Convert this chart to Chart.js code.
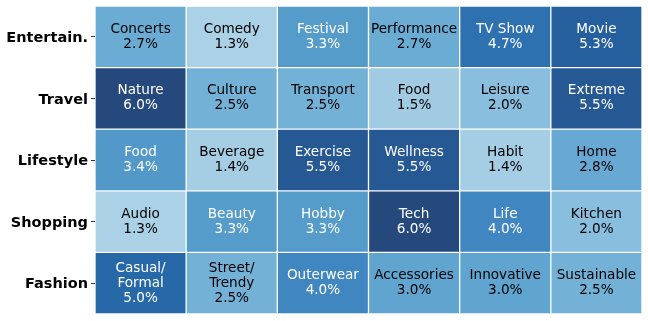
<!DOCTYPE html>
<html>
<head>
<meta charset="utf-8">
<script src="https://cdn.jsdelivr.net/npm/chart.js@4.4.1/dist/chart.umd.min.js"></script>
<style>
html,body{margin:0;padding:0;background:#fff;}
#wrap{width:648px;height:321px;}
</style>
</head>
<body>
<div id="wrap"><canvas id="c" width="648" height="321"></canvas></div>
<script>
const rowLabels = ['Entertain.', 'Travel', 'Lifestyle', 'Shopping', 'Fashion'];
const columnKeys = ['c1', 'c2', 'c3', 'c4', 'c5', 'c6'];

const entertainLabels = ['Concerts', 'Comedy', 'Festival', 'Performance', 'TV Show', 'Movie'];
const entertainValues = [2.7, 1.3, 3.3, 2.7, 4.7, 5.3];
const travelLabels = ['Nature', 'Culture', 'Transport', 'Food', 'Leisure', 'Extreme'];
const travelValues = [6.0, 2.5, 2.5, 1.5, 2.0, 5.5];
const lifestyleLabels = ['Food', 'Beverage', 'Exercise', 'Wellness', 'Habit', 'Home'];
const lifestyleValues = [3.4, 1.4, 5.5, 5.5, 1.4, 2.8];
const shoppingLabels = ['Audio', 'Beauty', 'Hobby', 'Tech', 'Life', 'Kitchen'];
const shoppingValues = [1.3, 3.3, 3.3, 6.0, 4.0, 2.0];
const fashionLabels = ['Casual/\nFormal', 'Street/\nTrendy', 'Outerwear', 'Accessories', 'Innovative', 'Sustainable'];
const fashionValues = [5.0, 2.5, 4.0, 3.0, 3.0, 2.5];

const cellLabels = [entertainLabels, travelLabels, lifestyleLabels, shoppingLabels, fashionLabels];
const cellValues = [entertainValues, travelValues, lifestyleValues, shoppingValues, fashionValues];

// matplotlib "Blues" approximation
const bluesStops = [
  [0.0, [247,251,255]], [0.125, [222,235,247]], [0.25, [198,219,239]],
  [0.375, [158,202,225]], [0.5, [107,174,214]], [0.625, [66,146,198]],
  [0.75, [33,113,181]], [0.875, [8,81,156]], [1.0, [8,48,107]]
];
function blues(t) {
  t = Math.max(0, Math.min(1, t));
  for (let i = 1; i < bluesStops.length; i++) {
    if (t <= bluesStops[i][0]) {
      const [t0, c0] = bluesStops[i-1], [t1, c1] = bluesStops[i];
      const f = (t - t0) / (t1 - t0);
      return c0.map((v, k) => v + (c1[k] - v) * f);
    }
  }
  return bluesStops[bluesStops.length-1][1];
}
function cellColor(v) {
  const t = 0.2 + 0.8 * (v / 6.0);
  const c = blues(t);
  const a = 0.88;
  const m = c.map(x => Math.round(a * x + (1 - a) * 255));
  return `rgb(${m[0]},${m[1]},${m[2]})`;
}

const datasets = rowLabels.map((name, r) => ({
  label: name,
  data: cellValues[r].map(() => [r, r + 1]),
  backgroundColor: cellValues[r].map(cellColor),
  borderColor: 'rgba(255,255,255,0.3)',
  borderWidth: 1,
  borderSkipped: false,
  grouped: false,
  barPercentage: 1.0,
  categoryPercentage: 1.0
}));

const textPlugin = {
  id: 'cellText',
  afterDatasetsDraw(chart) {
    const ctx = chart.ctx;
    ctx.save();
    ctx.font = '13.6px "DejaVu Sans"';
    ctx.textAlign = 'center';
    ctx.textBaseline = 'middle';
    chart.data.datasets.forEach((ds, r) => {
      const meta = chart.getDatasetMeta(r);
      meta.data.forEach((bar, j) => {
        const v = cellValues[r][j];
        const lines = cellLabels[r][j].split('\n').concat([v.toFixed(1) + '%']);
        const cx = bar.x;
        const cy = (bar.y + bar.base) / 2;
        const lh = 15;
        const y0 = cy - (lines.length - 1) * lh / 2;
        ctx.fillStyle = v > 3.2 ? '#ffffff' : '#000000';
        lines.forEach((ln, k) => ctx.fillText(ln, cx, y0 + k * lh));
      });
    });
    ctx.restore();
  }
};

new Chart(document.getElementById('c'), {
  type: 'bar',
  data: { labels: columnKeys, datasets },
  options: {
    responsive: false,
    animation: false,
    layout: { padding: { top: 6, right: 6, bottom: 7, left: 0 } },
    plugins: { legend: { display: false }, tooltip: { enabled: false } },
    scales: {
      x: { type: 'category', display: false, offset: true },
      y: {
        type: 'linear', min: 0, max: 5, reverse: true,
        afterBuildTicks(scale) { scale.ticks = rowLabels.map((_, i) => ({ value: i + 0.5 })); },
        afterFit(scale) { scale.width = 95; scale.paddingTop = 0; scale.paddingBottom = 0; },
        ticks: {
          autoSkip: false,
          padding: 3,
          labelOffset: 1.5,
          color: '#000',
          font: { family: 'DejaVu Sans', size: 14.5, weight: 'bold' },
          callback: (val, idx) => rowLabels[idx]
        },
        grid: { drawOnChartArea: false, drawTicks: true, tickLength: 4, color: '#333', lineWidth: 1 },
        border: { display: false }
      }
    }
  },
  plugins: [textPlugin]
});
</script>
</body>
</html>
